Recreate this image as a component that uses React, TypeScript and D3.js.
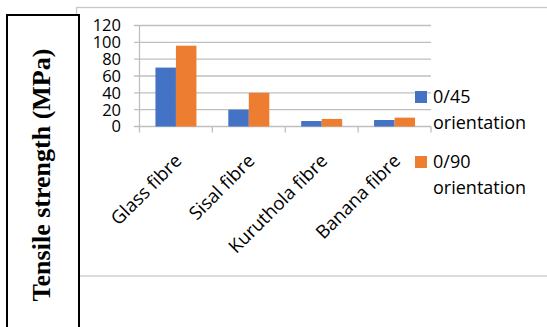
import React from 'react';
import * as d3 from 'd3';

// chart values
const fibres = ['Glass fibre', 'Sisal fibre', 'Kuruthola fibre', 'Banana fibre'];
const deg45 = [70, 20, 6.5, 7.7];
const deg90 = [96, 40, 9, 10.5];
const yTicks = [0, 20, 40, 60, 80, 100, 120];
const seriesNames = ['0/45', '0/90'];
const seriesColors = ['#4472C4', '#ED7D31'];

const W = 547;
const H = 327;
const font = '"Open Sans", sans-serif';

export default function App() {
  const x = d3.scaleBand().domain(fibres).range([139.5, 431]).paddingInner(0).paddingOuter(0);
  const y = d3.scaleLinear().domain([0, 120]).range([126.5, 25.5]);
  const inner = d3.scaleBand().domain(seriesNames).range([0, 41]);
  const series = [deg45, deg90];

  return (
    <svg width={W} height={H} style={{ position: 'absolute', left: 0, top: 0 }}>
      <rect width={W} height={H} fill="#fff" />
      {/* chart frame */}
      <rect x={76.5} y={7.5} width={520} height={268.5} fill="none" stroke="#c8c8c8" strokeWidth={1.3} />

      {/* grid */}
      {yTicks.map((t) => (
        <g key={t}>
          <line x1={134} x2={431} y1={y(t)} y2={y(t)} stroke="#bfbfbf" strokeWidth={1.3} />
          <text x={121} y={y(t)} dy="0.36em" textAnchor="end" fontFamily={font} fontSize={16.5} fill="#000">
            {t}
          </text>
        </g>
      ))}
      <line x1={139.5} x2={139.5} y1={y(120)} y2={y(0)} stroke="#bfbfbf" strokeWidth={1.3} />
      {[...fibres.map((f) => x(f) as number), 431].map((v, i) => (
        <line key={i} x1={v} x2={v} y1={y(0)} y2={y(0) + 6} stroke="#bfbfbf" strokeWidth={1.3} />
      ))}

      {/* bars */}
      {fibres.map((f, i) => {
        const cx = (x(f) as number) + x.bandwidth() / 2 - 20.5;
        return series.map((s, j) => (
          <rect
            key={f + j}
            x={cx + (inner(seriesNames[j]) as number)}
            y={y(s[i])}
            width={inner.bandwidth()}
            height={y(0) - y(s[i])}
            fill={seriesColors[j]}
          />
        ));
      })}

      {/* category labels */}
      {fibres.map((f) => {
        const ax = (x(f) as number) + x.bandwidth() / 2 + 7;
        const ay = 162;
        return (
          <text
            key={f}
            transform={`translate(${ax},${ay}) rotate(-45)`}
            textAnchor="end"
            fontFamily={font}
            fontSize={18.5}
            fill="#000"
          >
            {f}
          </text>
        );
      })}

      {/* legend */}
      {seriesNames.map((n, i) => {
        const top = 91 + i * 65;
        return (
          <g key={n}>
            <rect x={415} y={top} width={12} height={12} fill={seriesColors[i]} />
            <text x={433} y={top + 12} fontFamily={font} fontSize={18} fill="#000">
              {n}
            </text>
            <text x={433} y={top + 37.5} fontFamily={font} fontSize={18} fill="#000">
              orientation
            </text>
          </g>
        );
      })}

      {/* y title box */}
      <rect x={7} y={15} width={72} height={340} fill="#fff" stroke="#000" strokeWidth={2} />
      <text
        transform="translate(50,175) rotate(-90)"
        textAnchor="middle"
        fontFamily='"Liberation Serif", "Times New Roman", serif'
        fontWeight="bold"
        fontSize={26}
        fill="#000"
      >
        Tensile strength (MPa)
      </text>
    </svg>
  );
}
